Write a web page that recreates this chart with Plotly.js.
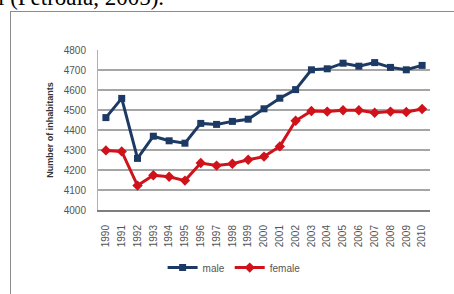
<!DOCTYPE html>
<html>
<head>
<meta charset="utf-8">
<script src="https://cdn.plot.ly/plotly-3.0.1.min.js"></script>
<style>
  html, body { margin: 0; padding: 0; background: #fff; }
  #wrap { position: relative; width: 454px; height: 294px; overflow: hidden; }
  #caption { position: absolute; left: -2px; top: -15px; font-family: "Liberation Serif", "Times New Roman", serif; font-size: 23px; color: #000; white-space: nowrap; }
  #frame { position: absolute; left: 10px; top: 11px; width: 480px; height: 320px; border: 1px solid #8c8c8c; box-sizing: border-box; }
  #chart { position: absolute; left: 0; top: 0; width: 454px; height: 294px; }
</style>
</head>
<body>
<div id="wrap">
  <div id="caption">l (Petroaia, 2005).</div>
  <div id="frame"></div>
  <div id="chart"></div>
</div>
<script>
const years = ["1990","1991","1992","1993","1994","1995","1996","1997","1998","1999","2000","2001","2002","2003","2004","2005","2006","2007","2008","2009","2010"];
const male = [4462,4558,4258,4369,4346,4334,4433,4428,4443,4454,4506,4559,4602,4701,4706,4734,4719,4737,4713,4701,4723];
const female = [4298,4293,4122,4174,4166,4147,4235,4222,4231,4251,4267,4318,4446,4495,4492,4499,4499,4486,4492,4490,4505];
const yTicks = [4000,4100,4200,4300,4400,4500,4600,4700,4800];

const traces = [
  { x: years, y: male, name: "male", type: "scatter", mode: "lines+markers",
    line: { color: "#1c3a63", width: 3 },
    marker: { symbol: "square", size: 7, color: "#1c3a63" } },
  { x: years, y: female, name: "female", type: "scatter", mode: "lines+markers",
    line: { color: "#d0121b", width: 3 },
    marker: { symbol: "diamond", size: 8, color: "#d0121b" } }
];

const layout = {
  width: 454, height: 294,
  margin: { l: 98, r: 24, t: 50, b: 82 },
  paper_bgcolor: "rgba(0,0,0,0)",
  plot_bgcolor: "rgba(0,0,0,0)",
  font: { family: "Liberation Sans, Arial, sans-serif", size: 10, color: "#555" },
  showlegend: true,
  legend: { orientation: "h", x: 0.41, xanchor: "center", y: -0.36, yanchor: "middle",
            font: { size: 10, color: "#555" }, itemwidth: 30, tracegroupgap: 0 },
  xaxis: {
    type: "category", range: [-0.5, years.length - 0.5], tickangle: -90, showgrid: false, zeroline: false,
    showline: true, linecolor: "#7f7f7f", linewidth: 2, automargin: false,
    ticks: "", ticklabelstandoff: 9,
    tickfont: { size: 10, color: "#555" }
  },
  yaxis: {
    range: [4000, 4800], tickvals: yTicks, ticktext: yTicks.map(String),
    showgrid: true, gridcolor: "#a6a6a6", gridwidth: 1.5, zeroline: false,
    showline: true, linecolor: "#b0b0b0", linewidth: 1, automargin: false,
    ticks: "", ticklabelstandoff: 9,
    tickfont: { size: 10, color: "#555" },
    title: { text: "<b>Number of inhabitants</b>", font: { size: 9, color: "#333" }, standoff: 8 }
  }
};

Plotly.newPlot("chart", traces, layout, { staticPlot: true, displayModeBar: false });
</script>
</body>
</html>
